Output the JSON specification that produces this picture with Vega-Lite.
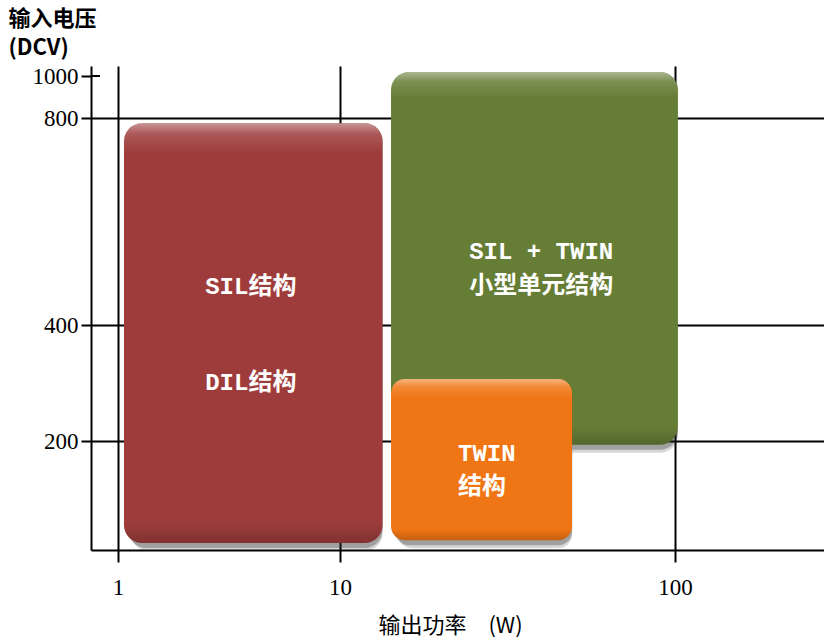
{
  "$schema": "https://vega.github.io/schema/vega-lite/v6.json",
  "autosize": {"type": "none"},
  "padding": {"left": 91, "top": 66, "right": 0, "bottom": 88},
  "width": 733,
  "height": 484,
  "background": "white",
  "config": {"view": {"stroke": null}},
  "datasets": {
    "boxes": [
      {"id": "SIL/DIL结构", "x0": 1.064, "x1": 13.4, "y0": 13, "y1": 790},
      {"id": "SIL + TWIN 小型单元结构", "x0": 14.2, "x1": 102, "y0": 193, "y1": 1019},
      {"id": "TWIN结构", "x0": 14.2, "x1": 49.3, "y0": 18, "y1": 307}
    ],
    "labels": [
      {"t": "SIL结构", "x": 2.47, "y": 473},
      {"t": "DIL结构", "x": 2.47, "y": 300},
      {"t": "SIL + TWIN", "x": 24.3, "y": 541},
      {"t": "小型单元结构", "x": 24.3, "y": 475},
      {"t": "TWIN", "x": 22.5, "y": 176},
      {"t": "结构", "x": 22.5, "y": 116}
    ]
  },
  "layer": [
    {
      "data": {"name": "boxes"},
      "transform": [{"filter": "datum.id != 'TWIN结构'"}],
      "mark": {"type": "rect", "cornerRadius": 18, "fill": "#222222", "opacity": 0.18, "xOffset": 7, "yOffset": 8},
      "encoding": {
        "x": {"field": "x0", "type": "quantitative",
          "scale": {"type": "log", "domain": [0.756, 1, 10, 100, 278.6], "range": [0, 27, 249, 584, 733], "nice": false},
          "axis": {"values": [1, 10, 100], "format": "d", "grid": true, "gridColor": "black", "gridWidth": 2,
            "domainColor": "black", "domainWidth": 2, "tickColor": "black", "tickWidth": 2, "tickSize": 12,
            "labelFont": "Liberation Serif", "labelFontSize": 23, "labelColor": "black", "labelPadding": 14,
            "title": "输出功率　(W)", "titleFont": "Noto Sans CJK SC", "titleFontSize": 22, "titleFontWeight": "normal",
            "titleColor": "black", "titleX": 359, "titleY": 75, "titleBaseline": "middle", "titleAlign": "center"}},
        "x2": {"field": "x1"},
        "y": {"field": "y0", "type": "quantitative",
          "scale": {"type": "linear", "domain": [0, 200, 400, 800, 1000, 1048], "range": [484, 375, 259, 52, 10, 0], "nice": false, "zero": false},
          "axis": {"values": [200, 400, 800, 1000], "format": "d", "grid": true, "gridColor": "black", "gridWidth": 2,
            "gridOpacity": {"condition": {"test": "datum.value === 1000", "value": 0}, "value": 1},
            "domainColor": "black", "domainWidth": 2, "tickColor": "black", "tickWidth": 2, "tickSize": 10,
            "labelFont": "Liberation Serif", "labelFontSize": 23, "labelColor": "black", "labelPadding": 3,
            "title": ["输入电压", "(DCV)"], "titleFont": "Noto Sans CJK SC", "titleFontSize": 22, "titleFontWeight": "bold",
            "titleColor": "black", "titleAngle": 0, "titleAlign": "left", "titleBaseline": "top", "titleX": -83, "titleY": -58,
            "titleLineHeight": 29}},
        "y2": {"field": "y1"}
      }
    },
    {
      "data": {"name": "boxes"},
      "transform": [{"filter": "datum.id != 'TWIN结构'"}],
      "mark": {"type": "rect", "cornerRadius": 18, "fill": "#222222", "opacity": 0.3, "xOffset": 4, "yOffset": 5},
      "encoding": {
        "x": {"field": "x0", "type": "quantitative"},
        "x2": {"field": "x1"},
        "y": {"field": "y0", "type": "quantitative"},
        "y2": {"field": "y1"}
      }
    },
    {
      "data": {"name": "boxes"},
      "transform": [{"filter": "datum.id != 'TWIN结构'"}],
      "mark": {"type": "rect", "cornerRadius": 18, "opacity": 1},
      "encoding": {
        "x": {"field": "x0", "type": "quantitative"},
        "x2": {"field": "x1"},
        "y": {"field": "y0", "type": "quantitative"},
        "y2": {"field": "y1"},
        "color": {"field": "id", "type": "nominal", "legend": null,
          "scale": {"domain": ["SIL/DIL结构", "SIL + TWIN 小型单元结构", "TWIN结构"], "range": ["#9e3c3c", "#667d36", "#f07514"]}}
      }
    },
    {
      "data": {"name": "boxes"},
      "transform": [{"filter": "datum.id != 'TWIN结构'"}],
      "mark": {"type": "rect", "cornerRadius": 18,
        "fill": {"gradient": "linear", "x1": 0, "y1": 0, "x2": 0, "y2": 1,
          "stops": [
            {"offset": 0, "color": "rgba(255,255,255,0.45)"},
            {"offset": 0.025, "color": "rgba(255,255,255,0.15)"},
            {"offset": 0.07, "color": "rgba(255,255,255,0)"},
            {"offset": 0.95, "color": "rgba(0,0,0,0)"},
            {"offset": 1, "color": "rgba(0,0,0,0.18)"}
          ]}},
      "encoding": {
        "x": {"field": "x0", "type": "quantitative"},
        "x2": {"field": "x1"},
        "y": {"field": "y0", "type": "quantitative"},
        "y2": {"field": "y1"}
      }
    },
    {
      "data": {"name": "boxes"},
      "transform": [{"filter": "datum.id == 'TWIN结构'"}],
      "mark": {"type": "rect", "cornerRadius": 14, "fill": "#222222", "opacity": 0.18, "xOffset": 7, "yOffset": 8},
      "encoding": {
        "x": {"field": "x0", "type": "quantitative"},
        "x2": {"field": "x1"},
        "y": {"field": "y0", "type": "quantitative"},
        "y2": {"field": "y1"}
      }
    },
    {
      "data": {"name": "boxes"},
      "transform": [{"filter": "datum.id == 'TWIN结构'"}],
      "mark": {"type": "rect", "cornerRadius": 14, "fill": "#222222", "opacity": 0.3, "xOffset": 4, "yOffset": 5},
      "encoding": {
        "x": {"field": "x0", "type": "quantitative"},
        "x2": {"field": "x1"},
        "y": {"field": "y0", "type": "quantitative"},
        "y2": {"field": "y1"}
      }
    },
    {
      "data": {"name": "boxes"},
      "transform": [{"filter": "datum.id == 'TWIN结构'"}],
      "mark": {"type": "rect", "cornerRadius": 14, "opacity": 1},
      "encoding": {
        "x": {"field": "x0", "type": "quantitative"},
        "x2": {"field": "x1"},
        "y": {"field": "y0", "type": "quantitative"},
        "y2": {"field": "y1"},
        "color": {"field": "id", "type": "nominal", "legend": null}
      }
    },
    {
      "data": {"name": "boxes"},
      "transform": [{"filter": "datum.id == 'TWIN结构'"}],
      "mark": {"type": "rect", "cornerRadius": 14,
        "fill": {"gradient": "linear", "x1": 0, "y1": 0, "x2": 0, "y2": 1,
          "stops": [
            {"offset": 0, "color": "rgba(255,255,255,0.45)"},
            {"offset": 0.05, "color": "rgba(255,255,255,0.15)"},
            {"offset": 0.12, "color": "rgba(255,255,255,0)"},
            {"offset": 0.93, "color": "rgba(0,0,0,0)"},
            {"offset": 1, "color": "rgba(0,0,0,0.18)"}
          ]}},
      "encoding": {
        "x": {"field": "x0", "type": "quantitative"},
        "x2": {"field": "x1"},
        "y": {"field": "y0", "type": "quantitative"},
        "y2": {"field": "y1"}
      }
    },
    {
      "data": {"values": [{"a": 0.756, "b": 0.83, "v": 1000}]},
      "mark": {"type": "rule", "color": "black", "strokeWidth": 2},
      "encoding": {
        "x": {"field": "a", "type": "quantitative"},
        "x2": {"field": "b"},
        "y": {"field": "v", "type": "quantitative"}
      }
    },
    {
      "data": {"name": "labels"},
      "mark": {"type": "text", "align": "left", "baseline": "middle", "font": "Liberation Mono, Noto Sans CJK SC", "fontSize": 24, "fontWeight": "bold", "color": "white"},
      "encoding": {
        "x": {"field": "x", "type": "quantitative"},
        "y": {"field": "y", "type": "quantitative"},
        "text": {"field": "t", "type": "nominal"}
      }
    }
  ]
}
